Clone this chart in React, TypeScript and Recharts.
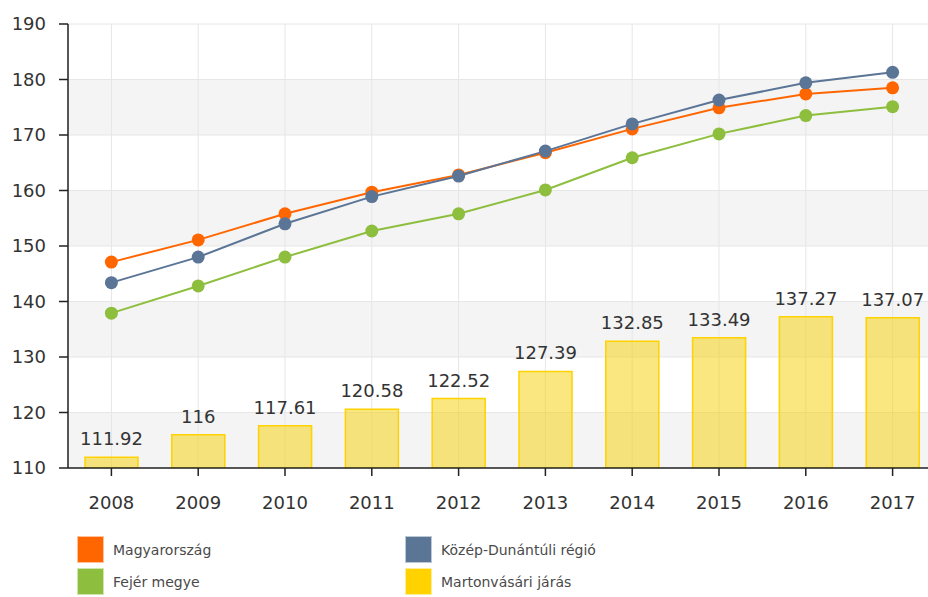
import React from 'react';
import { ComposedChart, Bar, Line, XAxis, YAxis, CartesianGrid, LabelList } from 'recharts';

const years = ['2008', '2009', '2010', '2011', '2012', '2013', '2014', '2015', '2016', '2017'];
const magyarorszag = [147.1, 151.1, 155.8, 159.7, 162.8, 166.8, 171.1, 174.9, 177.4, 178.5];
const kozepDunantuli = [143.4, 148.0, 154.0, 158.9, 162.6, 167.1, 172.0, 176.3, 179.4, 181.3];
const fejer = [137.9, 142.8, 148.0, 152.7, 155.8, 160.1, 165.9, 170.2, 173.5, 175.1];
const martonvasari = [111.92, 116, 117.61, 120.58, 122.52, 127.39, 132.85, 133.49, 137.27, 137.07];
const yTicks = [110, 120, 130, 140, 150, 160, 170, 180, 190];

const seriesNames = ['Magyarország', 'Közép-Dunántúli régió', 'Fejér megye', 'Martonvásári járás'];
const colors = ['#FF6600', '#5B7596', '#8DBE3E', '#FFD200'];

const data = years.map((y, i) => ({
  year: y,
  m: magyarorszag[i],
  k: kozepDunantuli[i],
  f: fejer[i],
  j: martonvasari[i],
}));

const FONT = '"DejaVu Sans", Verdana, sans-serif';

const legendItems = [
  { name: seriesNames[0], color: colors[0], left: 77, top: 536 },
  { name: seriesNames[1], color: colors[1], left: 405, top: 536 },
  { name: seriesNames[2], color: colors[2], left: 77, top: 568 },
  { name: seriesNames[3], color: colors[3], left: 405, top: 568 },
];

export default function App() {
  return (
    <div style={{ position: 'absolute', left: 0, top: 0, width: 928, height: 597, overflow: 'hidden', background: '#fff' }}>
      <ComposedChart
        width={936}
        height={597}
        data={data}
        margin={{ top: 24, right: 0, left: 0, bottom: 89 }}
      >
        <CartesianGrid
          stroke="#e6e6e6"
          horizontalFill={['#ffffff', '#f4f4f4']}
          fillOpacity={1}
        />
        <XAxis
          dataKey="year"
          height={40}
          tickSize={8}
          tickMargin={20}
          axisLine={{ stroke: '#222', strokeWidth: 1.5 }}
          tickLine={{ stroke: '#222', strokeWidth: 1.5 }}
          tick={{ fill: '#333', fontSize: 18, fontFamily: FONT }}
        />
        <YAxis
          width={68}
          domain={[110, 190]}
          ticks={yTicks}
          interval={0}
          allowDataOverflow
          tickSize={9}
          tickMargin={13}
          axisLine={{ stroke: '#222', strokeWidth: 1.5 }}
          tickLine={{ stroke: '#222', strokeWidth: 1.5 }}
          tick={{ fill: '#333', fontSize: 18, fontFamily: FONT }}
        />
        <Bar
          dataKey="j"
          name={seriesNames[3]}
          barSize={53}
          fill="#F5CF00"
          fillOpacity={0.5}
          stroke={colors[3]}
          strokeWidth={1.5}
          isAnimationActive={false}
        >
          <LabelList
            dataKey="j"
            position="top"
            offset={12}
            style={{ fill: '#333', fontSize: 18, fontFamily: FONT }}
          />
        </Bar>
        <Line
          dataKey="m"
          name={seriesNames[0]}
          stroke={colors[0]}
          strokeWidth={2}
          dot={{ r: 6.5, fill: colors[0], stroke: colors[0], strokeWidth: 0 }}
          activeDot={false}
          isAnimationActive={false}
        />
        <Line
          dataKey="k"
          name={seriesNames[1]}
          stroke={colors[1]}
          strokeWidth={2}
          dot={{ r: 6.5, fill: colors[1], stroke: colors[1], strokeWidth: 0 }}
          activeDot={false}
          isAnimationActive={false}
        />
        <Line
          dataKey="f"
          name={seriesNames[2]}
          stroke={colors[2]}
          strokeWidth={2}
          dot={{ r: 6.5, fill: colors[2], stroke: colors[2], strokeWidth: 0 }}
          activeDot={false}
          isAnimationActive={false}
        />
      </ComposedChart>
      {legendItems.map((it) => (
        <div key={it.name} style={{ position: 'absolute', left: it.left, top: it.top, height: 27, display: 'flex', alignItems: 'center' }}>
          <div style={{ width: 27, height: 27, background: it.color, boxSizing: 'border-box', border: '1px solid rgba(255,255,255,0.6)' }} />
          <span style={{ marginLeft: 9, fontFamily: FONT, fontSize: 14, color: '#4a4a4a' }}>{it.name}</span>
        </div>
      ))}
    </div>
  );
}
